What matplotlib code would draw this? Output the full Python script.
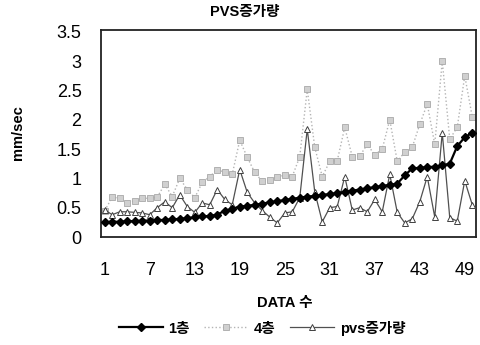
import matplotlib
matplotlib.use("Agg")
import matplotlib.pyplot as plt
import numpy as np

plt.rcParams['font.family'] = ['Liberation Sans', 'Noto Sans CJK KR', 'DejaVu Sans']

categories = list(range(1, 51))
tick_labels = [1, 7, 13, 19, 25, 31, 37, 43, 49]

floor1 = [0.25, 0.26, 0.26, 0.27, 0.27, 0.28, 0.28, 0.29, 0.29, 0.30,
          0.31, 0.32, 0.34, 0.35, 0.36, 0.38, 0.45, 0.48, 0.52, 0.53,
          0.55, 0.57, 0.59, 0.61, 0.63, 0.65, 0.67, 0.69, 0.70, 0.72,
          0.73, 0.75, 0.77, 0.79, 0.81, 0.83, 0.85, 0.87, 0.89, 0.91,
          1.05, 1.17, 1.18, 1.19, 1.20, 1.22, 1.25, 1.55, 1.70, 1.78]

floor4 = [0.45, 0.68, 0.66, 0.58, 0.62, 0.66, 0.66, 0.68, 0.90, 0.69,
          1.00, 0.81, 0.67, 0.93, 1.03, 1.15, 1.10, 1.07, 1.65, 1.36,
          1.10, 0.95, 0.97, 1.03, 1.05, 1.03, 1.37, 2.52, 1.53, 1.03,
          1.29, 1.30, 1.87, 1.37, 1.38, 1.58, 1.40, 1.50, 2.00, 1.29,
          1.45, 1.53, 1.92, 2.27, 1.58, 3.00, 1.67, 1.87, 2.75, 2.05]

pvs = [0.46, 0.38, 0.43, 0.43, 0.42, 0.41, 0.38, 0.50, 0.60, 0.50,
       0.72, 0.52, 0.42, 0.58, 0.55, 0.81, 0.64, 0.55, 1.15, 0.76,
       0.58, 0.45, 0.34, 0.24, 0.41, 0.43, 0.67, 1.84, 0.77, 0.26,
       0.50, 0.52, 1.03, 0.46, 0.50, 0.43, 0.64, 0.43, 1.07, 0.42,
       0.24, 0.31, 0.60, 1.03, 0.34, 1.78, 0.33, 0.27, 0.96, 0.55]

series_names = ['1층', '4층', 'pvs증가량']

fig = plt.figure(figsize=(4.81, 3.45), dpi=100)
ax = fig.add_axes([101/481, 1-237/345, 375/481, 207/345])

ax.plot(categories, floor4, color='#b4b4b4', linestyle=':', linewidth=1.0,
        marker='s', markersize=4, markerfacecolor='#d0d0d0',
        markeredgecolor='#a8a8a8', markeredgewidth=0.6, label=series_names[1], zorder=2)
ax.plot(categories, pvs, color='#505050', linestyle='-', linewidth=0.9,
        marker='^', markersize=4.5, markerfacecolor='white',
        markeredgecolor='#404040', markeredgewidth=0.7, label=series_names[2], zorder=3)
ax.plot(categories, floor1, color='black', linestyle='-', linewidth=1.6,
        marker='D', markersize=4.5, markerfacecolor='black',
        markeredgecolor='black', label=series_names[0], zorder=4)

ax.set_xlim(0.5, 50.5)
ax.set_ylim(0, 3.53)
ax.set_yticks([0, 0.5, 1, 1.5, 2, 2.5, 3, 3.5])
ax.set_yticklabels(['0', '0.5', '1', '1.5', '2', '2.5', '3', '3.5'])
ax.set_xticks(tick_labels)
ax.set_xticklabels([str(t) for t in tick_labels])
ax.tick_params(axis='both', length=0, labelsize=13)
ax.tick_params(axis='x', pad=18)
ax.tick_params(axis='y', pad=14)
for s in ax.spines.values():
    s.set_linewidth(1.3)
    s.set_color('#222222')

fig.text(245/481, 1-12/345, 'PVS증가량', ha='center', va='center',
         fontsize=10.5, fontweight='bold')
fig.text(18/481, 1-133/345, 'mm/sec', ha='center', va='center', rotation=90,
         fontsize=10.5, fontweight='bold')
fig.text(285/481, 1-303/345, 'DATA 수', ha='center', va='center',
         fontsize=10.5, fontweight='bold')

handles, labels = ax.get_legend_handles_labels()
order = [2, 0, 1]
leg = fig.legend([handles[i] for i in order], [labels[i] for i in order],
                 loc='center', bbox_to_anchor=(262/481, 1-328/345), ncol=3,
                 frameon=False, fontsize=10.5, handlelength=3.0,
                 columnspacing=1.0, handletextpad=0.4)
for t in leg.get_texts():
    t.set_fontweight('bold')

fig.savefig('out.png', dpi=100)
